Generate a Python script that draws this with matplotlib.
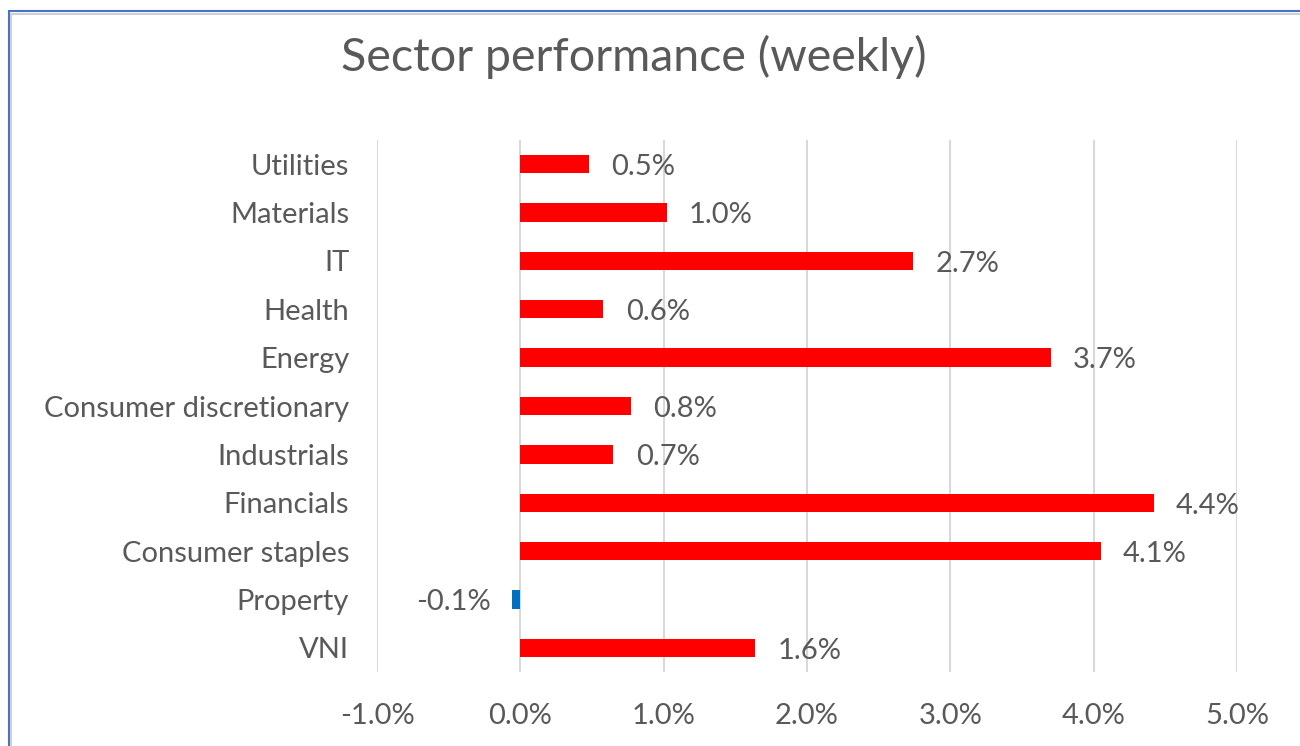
import matplotlib.pyplot as plt
from matplotlib.patches import Rectangle
from matplotlib.ticker import FuncFormatter

plt.rcParams['font.family'] = ['Lato', 'DejaVu Sans']

sectors = ['VNI', 'Property', 'Consumer staples', 'Financials', 'Industrials',
           'Consumer discretionary', 'Energy', 'Health', 'IT', 'Materials', 'Utilities']
values = [1.64, -0.06, 4.05, 4.42, 0.65, 0.77, 3.70, 0.58, 2.74, 1.02, 0.48]
labels = ['1.6%', '-0.1%', '4.1%', '4.4%', '0.7%', '0.8%', '3.7%', '0.6%', '2.7%', '1.0%', '0.5%']

text_col = '#595959'
colors = ['#FF0000' if v >= 0 else '#0070C0' for v in values]

fig = plt.figure(figsize=(13, 7.46), dpi=100)
ax = fig.add_axes([377 / 1300, 1 - 672 / 746, 860 / 1300, 532 / 746])

y = list(range(len(sectors)))
ax.barh(y, values, height=0.38, color=colors, zorder=3)

for yi, v, lab in zip(y, values, labels):
    if v >= 0:
        ax.annotate(lab, (v, yi), xytext=(16, -2), textcoords='offset points',
                    ha='left', va='center', fontsize=21, color=text_col)
    else:
        ax.annotate(lab, (v, yi), xytext=(-15, -2), textcoords='offset points',
                    ha='right', va='center', fontsize=21, color=text_col)

ax.set_xlim(-1, 5)
ax.set_ylim(-0.5, len(sectors) - 0.5)
ax.set_xticks(range(-1, 6))
ax.xaxis.set_major_formatter(FuncFormatter(lambda x, p: f'{x:.1f}%'))
ax.set_yticks(y)
ax.set_yticklabels(sectors)
ax.tick_params(axis='both', length=0, labelsize=21, labelcolor=text_col)
ax.tick_params(axis='y', pad=20)
ax.tick_params(axis='x', pad=22)
ax.grid(axis='x', color='#D9D9D9', linewidth=1.5, zorder=0)
for s in ax.spines.values():
    s.set_visible(False)

fig.text(634 / 1300, 1 - 57 / 746, 'Sector performance (weekly)', ha='center', va='center',
         fontsize=33.5, color=text_col)

# chart frame
fig.patches.append(Rectangle((9 / 1300, -0.1), 1.2, 1 - 11 / 746 + 0.1, transform=fig.transFigure,
                             fill=False, edgecolor='#4472C4', linewidth=1.5))
fig.patches.append(Rectangle((11 / 1300, -0.1), 1.2, 1 - 14 / 746 + 0.1, transform=fig.transFigure,
                             fill=False, edgecolor='#D0D0D0', linewidth=1.5))

fig.savefig('out.png', dpi=100)
